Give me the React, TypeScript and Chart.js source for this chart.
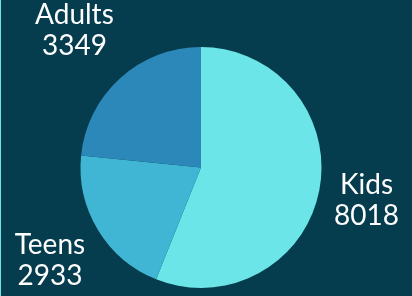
import React, { useEffect, useRef } from "react";
import { Chart, registerables } from "chart.js";

Chart.register(...registerables);

const categories = ["Kids", "Teens", "Adults"];
const values = [8018, 2933, 3349];
const sliceColors = ["#6be5e8", "#41b6d4", "#2b88b9"];
const background = "#053d4f";

const bgPlugin = {
  id: "bgPlugin",
  beforeDraw(chart: any) {
    const ctx = chart.ctx;
    ctx.save();
    ctx.fillStyle = background;
    ctx.fillRect(0, 0, chart.width, chart.height);
    ctx.fillStyle = "#6be5e8";
    ctx.fillRect(0, 0, 1, chart.height);
    ctx.restore();
  },
};

const outerLabels = {
  id: "outerLabels",
  afterDatasetsDraw(chart: any) {
    const ctx = chart.ctx;
    const meta = chart.getDatasetMeta(0);
    const fontSize = 28;
    const lineH = 31;
    const pad = 6;
    const offset = 15;
    ctx.save();
    ctx.font = `${fontSize}px Lato, "Noto Sans", sans-serif`;
    ctx.fillStyle = "#ffffff";
    ctx.textAlign = "center";
    ctx.textBaseline = "middle";
    meta.data.forEach((arc: any, i: number) => {
      const p = arc.getProps(["x", "y", "startAngle", "endAngle", "outerRadius"], true);
      const a = (p.startAngle + p.endAngle) / 2;
      const vx = Math.cos(a);
      const vy = Math.sin(a);
      const lines = [String(chart.data.labels[i]), String(chart.data.datasets[0].data[i])];
      const w = Math.max(...lines.map((l) => ctx.measureText(l).width));
      const h = lines.length * lineH + pad * 2;
      const vs = 1 / Math.max(Math.abs(vx), Math.abs(vy));
      const cx = p.x + (p.outerRadius + offset) * vx + (w / 2) * vx * vs;
      const cy = p.y + (p.outerRadius + offset) * vy + (h / 2) * vy * vs;
      const textH = lines.length * lineH;
      lines.forEach((l, k) => {
        ctx.fillText(l, cx, cy - textH / 2 + lineH / 2 + k * lineH);
      });
    });
    ctx.restore();
  },
};

export default function App() {
  const ref = useRef<HTMLCanvasElement | null>(null);
  useEffect(() => {
    document.body.style.margin = "0";
    const chart = new Chart(ref.current as HTMLCanvasElement, {
      type: "pie",
      data: {
        labels: categories,
        datasets: [
          {
            data: values,
            backgroundColor: sliceColors,
            borderWidth: 0,
          },
        ],
      },
      options: {
        responsive: false,
        animation: false,
        layout: { padding: { top: 47, bottom: 8, left: 80, right: 90 } },
        plugins: {
          legend: { display: false },
          tooltip: { enabled: false },
        },
      },
      plugins: [bgPlugin, outerLabels],
    });
    return () => chart.destroy();
  }, []);
  return (
    <div style={{ width: 412, height: 296 }}>
      <canvas ref={ref} width={412} height={296} style={{ display: "block" }} />
    </div>
  );
}
